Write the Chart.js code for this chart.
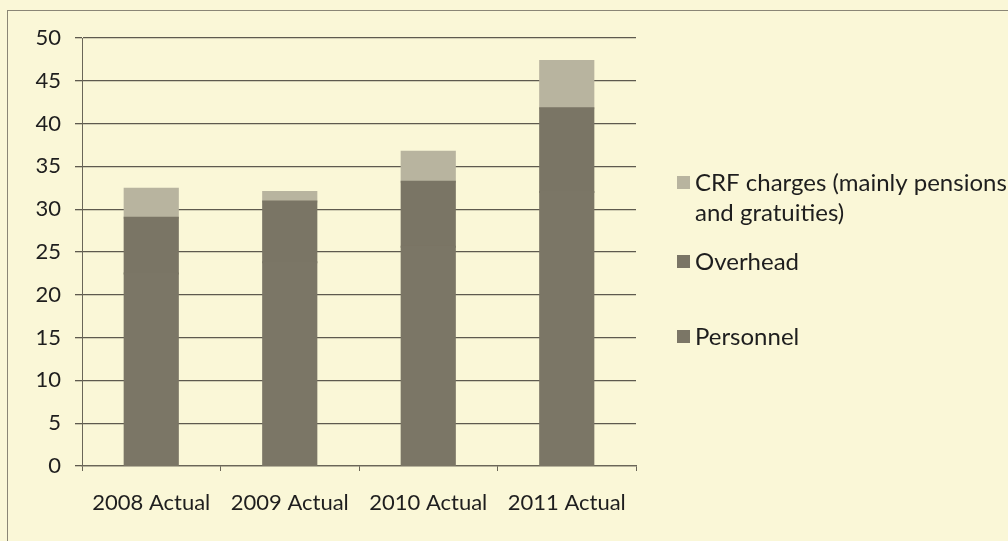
<!DOCTYPE html>
<html>
<head>
<meta charset="utf-8">
<script src="https://cdn.jsdelivr.net/npm/chart.js@4/dist/chart.umd.min.js"></script>
<style>
  html, body { margin: 0; padding: 0; background: #faf7d7; }
  #wrap { position: relative; width: 1008px; height: 541px; }
  canvas { display: block; }
</style>
</head>
<body>
<div id="wrap"><canvas id="c" width="1008" height="541"></canvas></div>
<script>
// ---- data ----
const categories = ["2008 Actual", "2009 Actual", "2010 Actual", "2011 Actual"];
const personnel  = [22.5, 23.8, 25.6, 32.0];
const overhead   = [6.5, 7.1, 7.6, 9.8];
const crfCharges = [3.4, 1.1, 3.5, 5.5];
const seriesNames = ["Personnel", "Overhead", ["CRF charges (mainly pensions", "and gratuities)"]];
const yTicks = [0, 5, 10, 15, 20, 25, 30, 35, 40, 45, 50];

const colPersonnel = "#7b7666";
const colOverhead  = "#7a7565";
const colCRF       = "#b8b49f";

const FONT = "Lato, 'Open Sans', sans-serif";

const framePlugin = {
  id: "frame",
  afterDraw(chart) {
    const ctx = chart.ctx;
    ctx.save();
    ctx.strokeStyle = "#8a8676";
    ctx.lineWidth = 1;
    ctx.strokeRect(7.5, 10.5, 1010, 540);
    ctx.restore();
  }
};

const legendPlugin = {
  id: "customLegend",
  afterDraw(chart) {
    const ctx = chart.ctx;
    const ds = chart.data.datasets;
    const items = [
      { i: 2, y: [182, 212] },
      { i: 1, y: [261] },
      { i: 0, y: [336] }
    ];
    ctx.save();
    ctx.font = "24px " + FONT;
    ctx.textBaseline = "middle";
    items.forEach(it => {
      const d = ds[it.i];
      ctx.fillStyle = d.backgroundColor;
      ctx.fillRect(677, it.y[0] - 6, 13, 13);
      ctx.fillStyle = "#1e1e1e";
      const lines = Array.isArray(d.legendText) ? d.legendText : [d.legendText];
      lines.forEach((t, k) => ctx.fillText(t, 695, it.y[k] + 1));
    });
    ctx.restore();
  }
};

new Chart(document.getElementById("c"), {
  type: "bar",
  data: {
    labels: categories,
    datasets: [
      { label: "Personnel", legendText: seriesNames[0], data: personnel, backgroundColor: colPersonnel },
      { label: "Overhead", legendText: seriesNames[1], data: overhead, backgroundColor: colOverhead },
      { label: "CRF charges (mainly pensions and gratuities)", legendText: seriesNames[2], data: crfCharges, backgroundColor: colCRF }
    ]
  },
  options: {
    responsive: false,
    animation: false,
    layout: { padding: { top: 38, right: 372, bottom: 0, left: 0 } },
    plugins: { legend: { display: false }, tooltip: { enabled: false } },
    datasets: { bar: { categoryPercentage: 0.8, barPercentage: 0.48, borderWidth: 0, inflateAmount: 1 } },
    scales: {
      x: {
        stacked: true,
        grid: { drawOnChartArea: false, tickLength: 5, color: "#6a6658", lineWidth: 1 },
        border: { color: "#6a6658", width: 1.3 },
        ticks: { font: { family: FONT, size: 22 }, color: "#1e1e1e", padding: 19 },
        afterFit(s) { s.height = 75; }
      },
      y: {
        stacked: true,
        min: 0, max: 50,
        afterBuildTicks(s) { s.ticks = yTicks.map(v => ({ value: v })); },
        grid: { color: "#5e5a4e", lineWidth: 1.3, tickLength: 7 },
        border: { color: "#6a6658", width: 1 },
        ticks: { font: { family: FONT, size: 22 }, color: "#1e1e1e", padding: 14 },
        afterFit(s) { s.width = 82; }
      }
    }
  },
  plugins: [framePlugin, legendPlugin]
});
</script>
</body>
</html>
